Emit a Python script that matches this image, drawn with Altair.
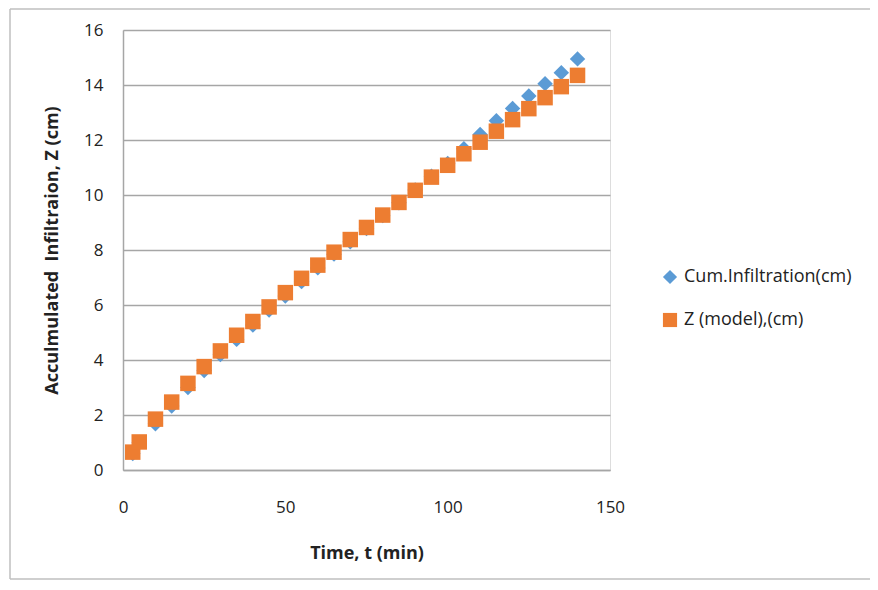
import altair as alt
import pandas as pd

# Data
time_min = [3, 5, 10, 15, 20, 25, 30, 35, 40, 45, 50, 55, 60, 65, 70, 75, 80,
            85, 90, 95, 100, 105, 110, 115, 120, 125, 130, 135, 140]
cum_infiltration = [0.60, 1.00, 1.68, 2.33, 3.00, 3.62, 4.20, 4.75, 5.27, 5.82,
                    6.33, 6.85, 7.35, 7.85, 8.30, 8.78, 9.25, 9.72, 10.18, 10.68,
                    11.15, 11.68, 12.20, 12.70, 13.15, 13.60, 14.05, 14.45, 14.95]
z_model = [0.65, 1.02, 1.85, 2.47, 3.15, 3.76, 4.33, 4.90, 5.40, 5.93, 6.45,
           6.97, 7.45, 7.92, 8.38, 8.82, 9.27, 9.73, 10.17, 10.65, 11.08, 11.50,
           11.92, 12.32, 12.74, 13.14, 13.54, 13.94, 14.35]
series_names = ["Cum.Infiltration(cm)", "Z (model),(cm)"]
x_ticks = [0, 50, 100, 150]
y_ticks = [0, 2, 4, 6, 8, 10, 12, 14, 16]

rows = []
for name, vals in zip(series_names, [cum_infiltration, z_model]):
    for t, v in zip(time_min, vals):
        rows.append({"t": t, "z": v, "series": name})
df = pd.DataFrame(rows)

FONT = "Open Sans"
GRID = "#A6A6A6"
TXT = "#222222"
BORDER = "#BFBFBF"

legend = alt.Legend(title=None, orient="none", legendX=538, legendY=238,
                    labelFont=FONT, labelFontSize=18, labelColor=TXT, labelLimit=400,
                    symbolSize=200, symbolStrokeWidth=0,
                    rowPadding=25, labelOffset=5, padding=0, symbolOpacity=1)

points = alt.Chart(df).mark_point(filled=True, opacity=1, size=240).encode(
    x=alt.X("t:Q", scale=alt.Scale(domain=[0, 150], nice=False),
            axis=alt.Axis(values=x_ticks, title="Time, t (min)", grid=False,
                          ticks=False, labelPadding=29, labelFontSize=17,
                          labelFont=FONT, labelColor=TXT, labelFlush=False,
                          domainColor=GRID, domainWidth=1.5,
                          titleFont=FONT, titleFontSize=18, titleFontWeight="bold",
                          titleColor=TXT, titleX=243.5, titleY=83,
                          titleBaseline="middle", titleAlign="center")),
    y=alt.Y("z:Q", scale=alt.Scale(domain=[0, 16], nice=False),
            axis=alt.Axis(values=y_ticks,
                          title="Acculmulated\u00a0 Infiltraion, Z (cm)",
                          grid=True, gridColor=GRID, gridWidth=1.5,
                          ticks=False, labelPadding=20, labelFontSize=17,
                          labelFont=FONT, labelColor=TXT, labelFlush=False,
                          domainColor=GRID, domainWidth=1.5,
                          titleFont=FONT, titleFontSize=18, titleFontWeight="bold",
                          titleColor=TXT, titleX=-71, titleY=220, titleAngle=-90,
                          titleBaseline="middle", titleAlign="center")),
    color=alt.Color("series:N",
                    scale=alt.Scale(domain=series_names, range=["#5B9BD5", "#ED7D31"]),
                    legend=legend),
    shape=alt.Shape("series:N",
                    scale=alt.Scale(domain=series_names, range=["diamond", "square"]),
                    legend=legend),
)

one = pd.DataFrame({"a": [0]})
top_line = alt.Chart(one).mark_rule(color=BORDER, strokeWidth=1.5, clip=False).encode(
    x=alt.value(-113), x2=alt.value(747), y=alt.value(-21)
)
left_line = alt.Chart(one).mark_rule(color=BORDER, strokeWidth=1.5, clip=False).encode(
    x=alt.value(-113), y=alt.value(-21), y2=alt.value(549)
)
bottom_line = alt.Chart(one).mark_rule(color=BORDER, strokeWidth=1.5, clip=False).encode(
    x=alt.value(-113), x2=alt.value(747), y=alt.value(549)
)

chart = alt.layer(top_line, left_line, bottom_line, points).properties(
    width=487, height=440,
    autosize=alt.AutoSizeParams(type="none"),
    padding={"left": 115, "top": 22, "right": 260, "bottom": 110},
).configure_view(stroke=None).configure(background="white")

chart.save("out.html", embed_options={"renderer": "svg", "actions": False})
